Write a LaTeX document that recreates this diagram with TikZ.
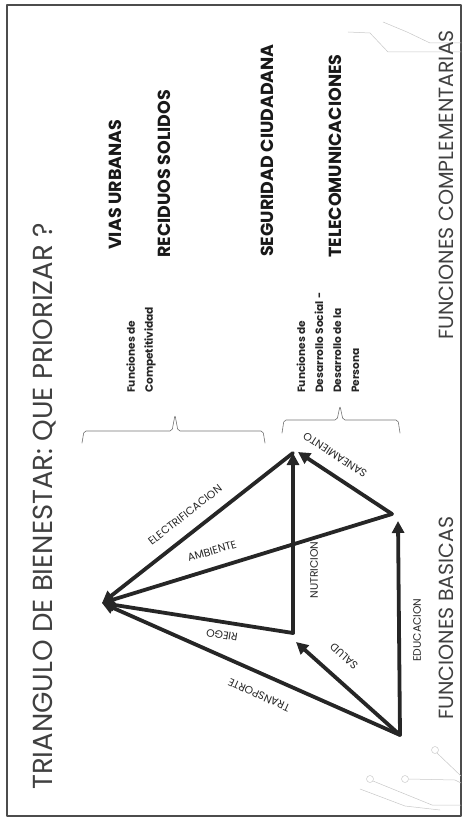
\documentclass[tikz,border=0pt]{standalone}
\usepackage{fontspec}
\setmainfont{Poppins}
\usetikzlibrary{arrows.meta}

\tikzset{
  flecha/.style={line width=3.8pt, draw=black!85, -{Triangle[length=12pt,width=12pt]}},
  etiq/.style={font=\fontsize{10.8}{12}\selectfont, text=black!85, inner sep=1pt},
  titulo/.style={font=\fontsize{27.5}{30}\selectfont, text=black!75, rotate=90, anchor=west, inner sep=0pt},
  funcion/.style={font=\bfseries\fontsize{17.5}{20}\selectfont, text=black!90, rotate=90, anchor=west, inner sep=0pt},
  grupo/.style={font=\bfseries\fontsize{10.6}{18}\selectfont, text=black!85, rotate=90, anchor=west, align=left, inner sep=0pt},
  llave/.style={draw=black!55, line width=0.6pt, rounded corners=2pt},
  circuito/.style={draw=black!22, line width=0.5pt}
}

\begin{document}
\begin{tikzpicture}[x=1pt,y=-1pt, line cap=round, line join=round]
\useasboundingbox (0,0) rectangle (465,826);

% marco
\draw[black!70, line width=1.2pt] (7,5) rectangle (461,816);

% circuito decorativo
\draw[circuito] (348,32) -- (370,33) -- (388,52) -- (461,52);
\draw[circuito] (383,22) -- (407,32) -- (430,43) -- (461,43);
\draw[circuito] (437,753) -- (461,776);
\draw[circuito] (409,779) -- (455,780) -- (461,783);
\draw[circuito] (373,781) -- (432,805) -- (461,805);
\draw[circuito] (360,789) -- (405,806) -- (440,810);
\foreach \c in {(435,750),(405,779),(370,779)}
  \draw[circuito] \c circle[radius=3.5pt];

% titulos
\node[titulo] (tit) at (45,790) {TRIANGULO DE BIENESTAR: QUE PRIORIZAR ?};
\node[titulo, font=\fontsize{20.5}{24}\selectfont] (fcomp) at (446,340) {FUNCIONES COMPLEMENTARIAS};
\node[titulo, font=\fontsize{20.5}{24}\selectfont] (fbas) at (446,720) {FUNCIONES BASICAS};

% funciones complementarias
\node[funcion] (vias) at (115,250) {VIAS\ URBANAS};
\node[funcion] (resid) at (164,258) {RECIDUOS\ SOLIDOS};
\node[funcion] (segur) at (267,257) {SEGURIDAD\ CIUDADANA};
\node[funcion] (telec) at (335,258) {TELECOMUNICACIONES};

% grupos
\node[grupo] (gcomp) at (141,393) {Funciones de\\Competitividad};
\node[grupo] (gsoc) at (328,393) {Funciones de\\Desarrollo Social -\\Desarrollo de la\\Persona};

% llaves
\draw[llave] (82,443) -- (84,431) -- (172,431) -- (175,415) -- (178,431) -- (263,431) -- (265,443);
\draw[llave] (282,433) -- (284,420) -- (337,420) -- (340,406) -- (343,420) -- (398,420) -- (400,433);

% vertices
\coordinate (A) at (102,603);
\coordinate (B) at (293,453);
\coordinate (Bsan) at (298,452);
\coordinate (C) at (392,514);
\coordinate (Cedu) at (398,521);
\coordinate (D) at (293,633);
\coordinate (Dsal) at (296,642);
\coordinate (E) at (400,735);

% flechas
\draw[flecha] (B) -- (A);
\draw[flecha] (C) -- (A);
\draw[flecha] (D) -- (A);
\draw[flecha] (E) -- (A);
\draw[flecha] (D) -- (B);
\draw[flecha] (C) -- (Bsan);
\draw[flecha] (E) -- (Dsal);
\draw[flecha] (E) -- (Cedu);

% etiquetas
\node[etiq, rotate=38]  (lelec) at (185,515) {ELECTRIFICACION};
\node[etiq, rotate=16]  (lamb)  at (212,551) {AMBIENTE};
\node[etiq, rotate=171] (lrieg) at (222,635) {RIEGO};
\node[etiq, rotate=156] (ltran) at (259,695) {TRANSPORTE};
\node[etiq, rotate=90]  (lnutr) at (314,570) {NUTRICION};
\node[etiq, rotate=147] (lsan)  at (335,455) {SANEAMIENTO};
\node[etiq, rotate=138] (lsal)  at (344,656) {SALUD};
\node[etiq, rotate=90]  (ledu)  at (417,630) {EDUCACION};

\end{tikzpicture}
\end{document}
